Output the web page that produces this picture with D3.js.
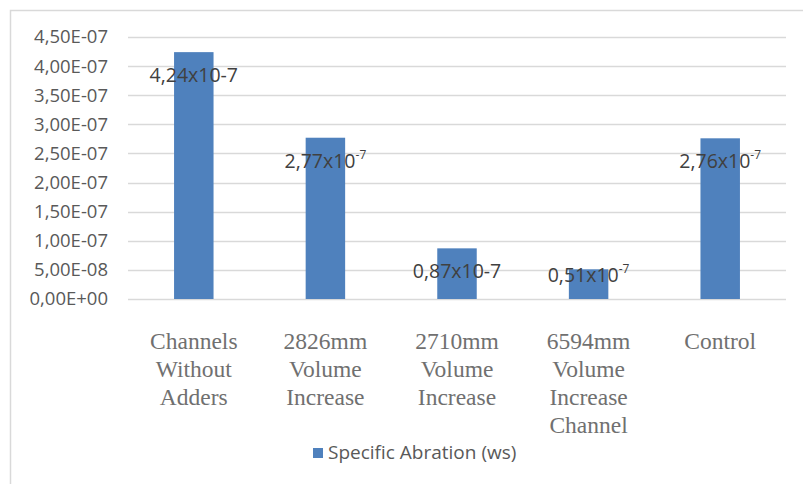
<!DOCTYPE html>
<html><head><meta charset="utf-8">
<script src="https://cdn.jsdelivr.net/npm/d3@7"></script>
<style>body{margin:0;background:#fff}</style>
</head><body>
<svg id="c" width="803" height="484"></svg>
<script>
const categories = [
  ["Channels","Without","Adders"],
  ["2826mm","Volume","Increase"],
  ["2710mm","Volume","Increase"],
  ["6594mm","Volume","Increase","Channel"],
  ["Control"]
];
const values = [4.24e-7, 2.77e-7, 0.87e-7, 0.51e-7, 2.76e-7];
const labelMain = ["4,24x10-7", "2,77x10", "0,87x10-7", "0,51x10", "2,76x10"];
const labelSup = ["", "-7", "", "-7", "-7"];
const yTicks = [0, 0.5e-7, 1e-7, 1.5e-7, 2e-7, 2.5e-7, 3e-7, 3.5e-7, 4e-7, 4.5e-7];
const yTickLabels = ["0,00E+00","5,00E-08","1,00E-07","1,50E-07","2,00E-07","2,50E-07","3,00E-07","3,50E-07","4,00E-07","4,50E-07"];
const seriesName = "Specific Abration (ws)";

(function(){
const svg = d3.select("#c");
const pL = 128, pR = 786, pT = 37, pB = 299;
const x = d3.scaleBand().domain(d3.range(values.length)).range([pL, pR]).paddingInner(0.7).paddingOuter(0.35);
const y = d3.scaleLinear().domain([0, 4.5e-7]).range([pB, pT]);

// frame
svg.append("path").attr("d", `M10.5,484 L10.5,10.5 L803,10.5`).attr("fill","none").attr("stroke","#d9d9d9").attr("stroke-width",1.5);

// gridlines
svg.append("g").selectAll("line").data(yTicks).join("line")
  .attr("x1", pL).attr("x2", pR)
  .attr("y1", d => Math.round(y(d)) + 0.5).attr("y2", d => Math.round(y(d)) + 0.5)
  .attr("stroke", "#d9d9d9").attr("stroke-width", 1.5);

// y axis labels
const yAxis = d3.axisLeft(y).tickValues(yTicks).tickFormat((d,i) => yTickLabels[i]).tickSize(0).tickPadding(0);
const ga = svg.append("g").attr("transform", "translate(108,0)").call(yAxis);
ga.select(".domain").remove();
ga.selectAll("text").attr("font-family", "'Open Sans', sans-serif").attr("font-size", 18.5).attr("fill", "#595959");

// bars
svg.append("g").selectAll("rect").data(values).join("rect")
  .attr("x", (d,i) => x(i)).attr("width", x.bandwidth())
  .attr("y", d => y(d)).attr("height", d => y(0) - y(d))
  .attr("fill", "#4f81bd");

// data labels
const lab = svg.append("g").selectAll("text").data(values).join("text")
  .attr("x", (d,i) => x(i) + x.bandwidth()/2)
  .attr("y", d => Math.min(y(d) + 25, y(0) - 22))
  .attr("text-anchor", "middle").attr("dominant-baseline", "middle")
  .attr("font-family", "'Open Sans', sans-serif").attr("font-size", 19.5).attr("fill", "#404040");
lab.append("tspan").text((d,i) => labelMain[i]);
lab.append("tspan").attr("dy", -7).attr("font-size", 12).text((d,i) => labelSup[i]);

// category labels
const cg = svg.append("g").selectAll("text").data(categories).join("text")
  .attr("x", (d,i) => x(i) + x.bandwidth()/2)
  .attr("y", 349)
  .attr("text-anchor", "middle")
  .attr("font-family", "'Liberation Serif', 'Times New Roman', serif").attr("font-size", 23.5).attr("fill", "#707070");
cg.each(function(d){
  const t = d3.select(this), cx = t.attr("x");
  t.selectAll("tspan").data(d).join("tspan")
    .attr("x", cx).attr("dy", (s,i) => i === 0 ? 0 : 28).text(s => s);
});

// legend
const lg = svg.append("g");
lg.append("rect").attr("x", 313).attr("y", 448).attr("width", 10).attr("height", 10).attr("fill", "#4f81bd");
lg.append("text").attr("x", 328).attr("y", 454).attr("dominant-baseline","middle")
  .attr("font-family", "'Open Sans', sans-serif").attr("font-size", 19).attr("fill", "#595959").text(seriesName);
})();
</script>
</body></html>
